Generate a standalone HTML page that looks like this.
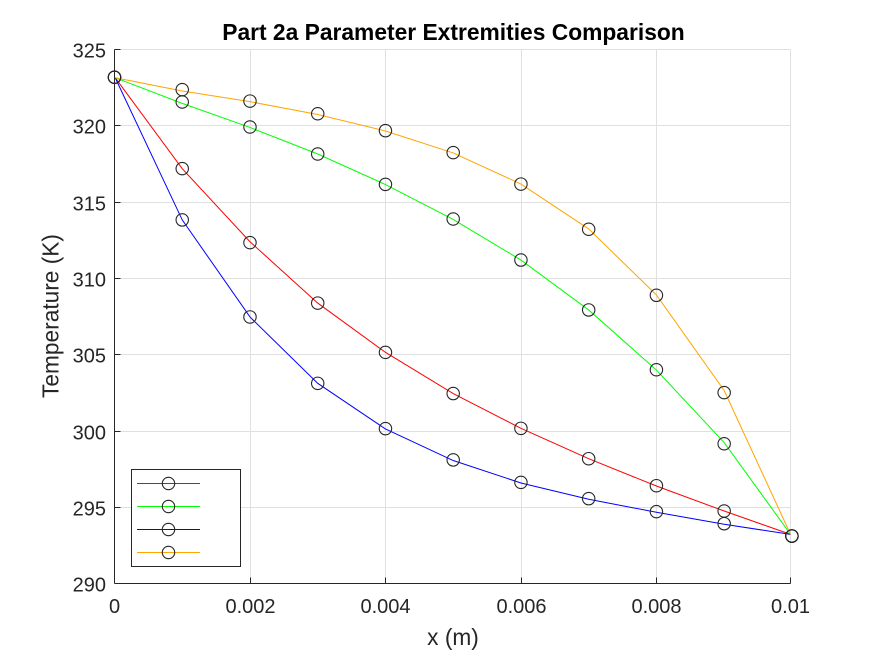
<!DOCTYPE html>
<html lang="en">
<head>
<meta charset="utf-8">
<title>Part 2a Parameter Extremities Comparison</title>
<style>
html,body{margin:0;padding:0;background:#fff;}
svg{display:block;font-family:"Liberation Sans",Arial,sans-serif;}
</style>
</head>
<body>
<svg id="chart" width="875" height="656" viewBox="0 0 875 656" xmlns="http://www.w3.org/2000/svg">
<rect x="0" y="0" width="875" height="656" fill="#ffffff"/>
<g id="grid"></g>
<g id="series"></g>
<g id="axes"></g>
<text x="453.5" y="40" text-anchor="middle" font-size="22.8" font-weight="bold" fill="#000000">Part 2a Parameter Extremities Comparison</text>
<text x="453" y="645" text-anchor="middle" font-size="22.7" fill="#262626">x (m)</text>
<text transform="translate(58.5 316) rotate(-90)" text-anchor="middle" font-size="22.7" fill="#262626">Temperature (K)</text>
<g id="legend">
<rect x="131.5" y="469.5" width="109" height="97" fill="#ffffff" stroke="#262626" stroke-width="1"/>
</g>
</svg>
<script>
var xTicks = [0, 0.002, 0.004, 0.006, 0.008, 0.00998];
var xTickLabels = ["0", "0.002", "0.004", "0.006", "0.008", "0.01"];
var yTicks = [290, 295, 300, 305, 310, 315, 320, 325];
var yTickLabels = ["290", "295", "300", "305", "310", "315", "320", "325"];

var lineX = [0.00001, 0.001, 0.002, 0.003, 0.004, 0.005, 0.006, 0.007, 0.008, 0.009, 0.00998];
var markerX = [0, 0.001, 0.002, 0.003, 0.004, 0.005, 0.006, 0.007, 0.008, 0.009, 0.01];

var redLine = [323.15, 317.19, 312.40, 308.38, 305.15, 302.45, 300.17, 298.18, 296.39, 294.75, 293.22];
var greenLine = [323.15, 321.47, 319.89, 318.15, 316.15, 313.86, 311.20, 307.93, 303.99, 299.24, 293.22];
var blueLine = [323.15, 313.83, 307.47, 303.12, 300.13, 298.06, 296.59, 295.52, 294.67, 293.88, 293.22];
var orangeLine = [323.15, 322.28, 321.58, 320.74, 319.66, 318.22, 316.18, 313.24, 308.91, 302.65, 293.22];

var redMarkers = [323.18, 317.19, 312.34, 308.38, 305.15, 302.45, 300.17, 298.18, 296.41, 294.75, 293.11];
var greenMarkers = [323.18, 321.56, 319.92, 318.15, 316.16, 313.89, 311.20, 307.93, 304.01, 299.16, 293.11];
var blueMarkers = [323.18, 313.83, 307.47, 303.12, 300.15, 298.10, 296.63, 295.56, 294.71, 293.92, 293.11];
var orangeMarkers = [323.18, 322.37, 321.62, 320.79, 319.68, 318.24, 316.18, 313.22, 308.89, 302.51, 293.11];

var NS = "http://www.w3.org/2000/svg";
var plotLeft = 114.5, plotRight = 791.9, plotTop = 49.5, plotBottom = 583.5;
var xMin = 0, xMax = 0.01, yMin = 290, yMax = 325;
function xScale(v) { return plotLeft + (v - xMin) / (xMax - xMin) * (plotRight - plotLeft); }
function yScale(v) { return plotBottom - (v - yMin) / (yMax - yMin) * (plotBottom - plotTop); }
function snap(p) { return Math.floor(p + 0.1) + 0.5; }
function mk(tag, parent, attrs) {
  var el = document.createElementNS(NS, tag);
  for (var k in attrs) { el.setAttribute(k, attrs[k]); }
  parent.appendChild(el);
  return el;
}
var gridG = document.getElementById("grid");
var axesG = document.getElementById("axes");
var seriesG = document.getElementById("series");
var legendG = document.getElementById("legend");
var gridColor = "#e0e0e0", axisColor = "#262626";
var axisRightEnd = snap(xScale(xTicks[xTicks.length - 1]));

xTicks.forEach(function (t, i) {
  var x = snap(xScale(t));
  var g = mk("line", gridG, {x1: x, x2: x, y1: plotTop, y2: plotBottom, stroke: gridColor, "stroke-width": 1});
  
  
  var tk = mk("line", axesG, {x1: x, x2: x, y1: plotBottom, y2: plotBottom - 6, stroke: axisColor, "stroke-width": 1});
  
  
  var lb = mk("text", axesG, {x: x, y: 613, "text-anchor": "middle", "font-size": 20, fill: axisColor});
  
  
  lb.textContent = xTickLabels[i];
});
yTicks.forEach(function (t, i) {
  var y = snap(yScale(t));
  var g = mk("line", gridG, {x1: plotLeft, x2: axisRightEnd, y1: y, y2: y, stroke: gridColor, "stroke-width": 1});
  
  
  var tk = mk("line", axesG, {x1: plotLeft, x2: plotLeft + 6, y1: y, y2: y, stroke: axisColor, "stroke-width": 1});
  
  
  var lb = mk("text", axesG, {x: 106, y: y + 8, "text-anchor": "end", "font-size": 20, fill: axisColor});
  
  
  lb.textContent = yTickLabels[i];
});
var xAxisLine = mk("line", axesG, {x1: plotLeft, x2: axisRightEnd, y1: plotBottom, y2: plotBottom, stroke: axisColor, "stroke-width": 1});


var yAxisLine = mk("line", axesG, {x1: plotLeft, x2: plotLeft, y1: plotTop, y2: plotBottom, stroke: axisColor, "stroke-width": 1});



function drawSeries(lineVals, markerVals, color) {
  var pts = lineVals.map(function (v, i) { return xScale(lineX[i]).toFixed(2) + "," + yScale(v).toFixed(2); }).join(" ");
  var pl = mk("polyline", seriesG, {points: pts, fill: "none", stroke: color, "stroke-width": 1});
  
  
  markerVals.forEach(function (v, i) {
    var c = mk("circle", seriesG, {cx: xScale(markerX[i]).toFixed(2), cy: yScale(v).toFixed(2), r: 6.2, fill: "none", stroke: axisColor, "stroke-width": 1.1});
    
    
  });
}
drawSeries(redLine, redMarkers, "#ff0000");
drawSeries(greenLine, greenMarkers, "#00ff00");
drawSeries(blueLine, blueMarkers, "#0000ff");
drawSeries(orangeLine, orangeMarkers, "#ffa500");

var legendColors = ["#ff0000", "#00ff00", "#0000ff", "#ffa500"];
legendColors.forEach(function (color, i) {
  var y = 483.5 + i * 23;
  var ln = mk("line", legendG, {x1: 137, x2: 200, y1: y, y2: y, stroke: color, "stroke-width": 1});
  
  
  var c = mk("circle", legendG, {cx: 168.5, cy: y, r: 6.2, fill: "none", stroke: axisColor, "stroke-width": 1.1});
  
  
});
</script>
</body>
</html>
